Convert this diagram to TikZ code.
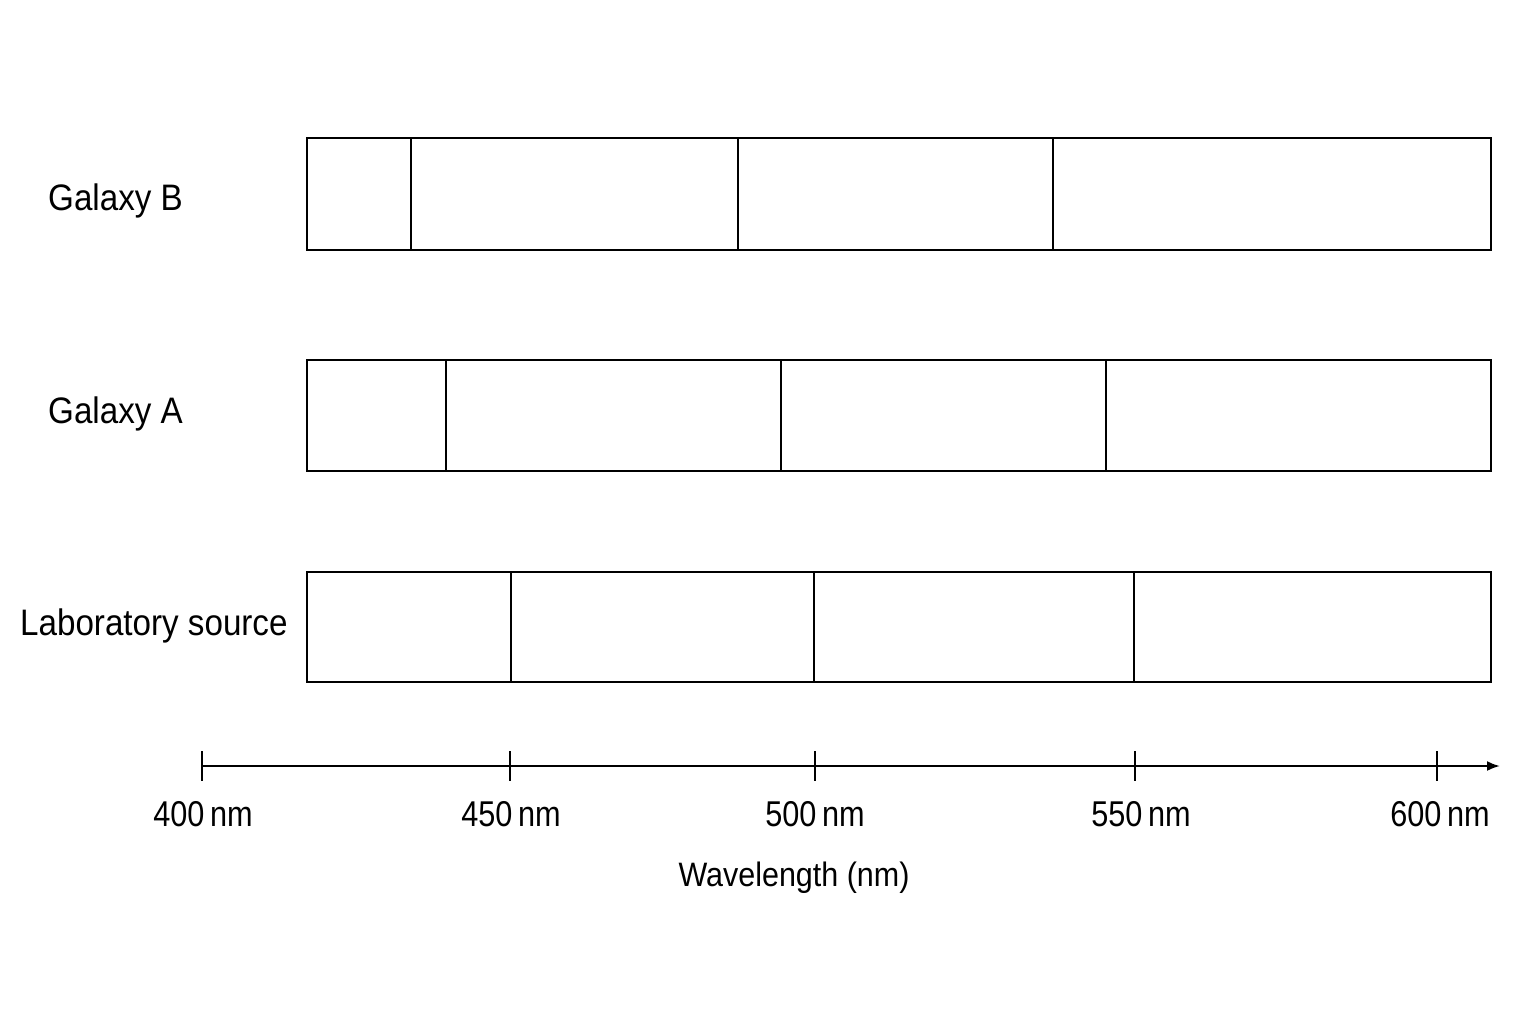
\documentclass[tikz,border=0pt]{standalone}
\usepackage{fontspec}
\setmainfont[FakeStretch=0.9]{Liberation Sans}
\usetikzlibrary{arrows.meta}
\begin{document}
\begin{tikzpicture}[x=1bp,y=-1bp,
  lbl/.style={font=\fontsize{37}{40}\selectfont, inner sep=0pt},
  ticklbl/.style={font=\fontsize{36}{40}\selectfont, inner sep=0pt, xscale=0.95},
  bar/.style={draw=black, line width=2.4bp},
  ln/.style={line width=2.6bp},
  tk/.style={line width=2.2bp}]
\useasboundingbox (0,0) rectangle (1536,1024);
% Galaxy B
\draw[bar] (307,138) rectangle (1491,250);
\node[lbl, anchor=west] (gb) at (48,201) {Galaxy B};
\draw[ln] (411,138) -- (411,250);
\draw[ln] (738,138) -- (738,250);
\draw[ln] (1053,138) -- (1053,250);
% Galaxy A
\draw[bar] (307,360) rectangle (1491,471);
\node[lbl, anchor=west] (ga) at (48,414) {Galaxy A};
\draw[ln] (446,360) -- (446,471);
\draw[ln] (781,360) -- (781,471);
\draw[ln] (1106,360) -- (1106,471);
% Lab
\draw[bar] (307,572) rectangle (1491,682);
\node[lbl, anchor=west] (lab) at (20,626) {Laboratory source};
\draw[ln] (511,572) -- (511,682);
\draw[ln] (814,572) -- (814,682);
\draw[ln] (1134,572) -- (1134,682);
% axis
\coordinate (a0) at (202,766);
\coordinate (a1) at (1500,766);
\draw[tk, -{Latex[length=13bp,width=10bp]}] (a0) -- (a1);
\foreach \x/\t/\lx in {202/400/203, 510/450/511, 815/500/815, 1135/550/1141, 1437/600/1440}{
  \draw[tk] (\x,751) -- (\x,781);
  \node[ticklbl] at (\lx,814) {\t\,nm};
}
\node[lbl, font=\fontsize{34}{38}\selectfont] (wl) at (794,878) {Wavelength (nm)};
\end{tikzpicture}
\end{document}
